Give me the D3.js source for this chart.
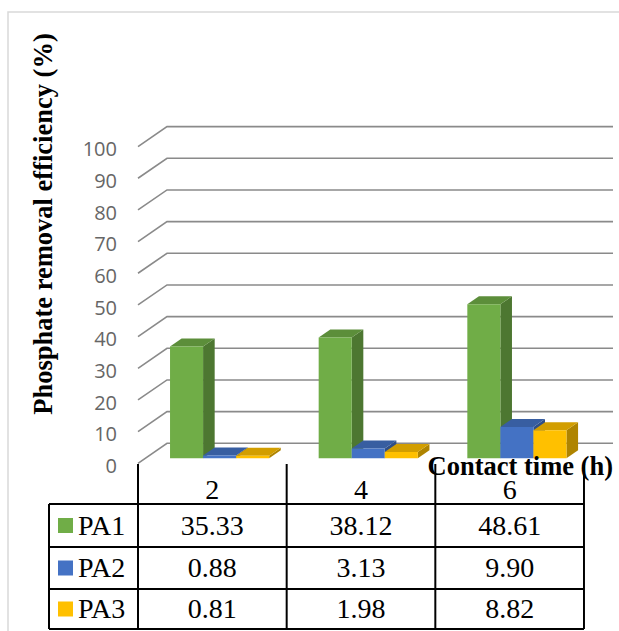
<!DOCTYPE html>
<html>
<head>
<meta charset="utf-8">
<script src="https://cdn.jsdelivr.net/npm/d3@7"></script>
<style>
  html, body { margin: 0; padding: 0; background: #fff; }
  svg { display: block; }
  .serif { font-family: "Liberation Serif", Tinos, "Noto Serif", "DejaVu Serif", "Nimbus Roman", "Nimbus Roman No9 L", FreeSerif, "Noto Serif CJK SC", "Times New Roman", Times, serif; }
  .sans { font-family: "Open Sans", "Liberation Sans", sans-serif; }
</style>
</head>
<body>
<svg id="chart" width="619" height="631"></svg>
<script>
// Contact times (h) and phosphate removal efficiency (%) per adsorbent
const categories = ["2", "4", "6"];
const seriesNames = ["PA1", "PA2", "PA3"];
const pa1 = [35.33, 38.12, 48.61];
const pa2 = [0.88, 3.13, 9.90];
const pa3 = [0.81, 1.98, 8.82];
const seriesValues = [pa1, pa2, pa3];
const seriesColors = ["#70AD47", "#4472C4", "#FFC000"];
const yTicks = [0, 10, 20, 30, 40, 50, 60, 70, 80, 90, 100];
const yTitle = "Phosphate removal efficiency (%)";
const xTitle = "Contact time (h)";

const svg = d3.select("#chart");

// Oblique 3-D projection: front plane plus a receding depth offset
const DX = 29, DY = 20;
const plotLeft = 138, plotRight = 584;
const y = d3.scaleLinear().domain([0, 100]).range([463.3, 146.6]);
const x = d3.scaleBand().domain(categories).range([plotLeft, plotRight])
  .paddingInner(0.333).paddingOuter(0.1667);
const xs = d3.scaleBand().domain(seriesNames).range([0, x.bandwidth()]);
const proj = (px, v, d) => [px + d * DX, y(v) - d * DY];

// Chart frame
svg.append("path")
  .attr("d", "M8,631 L8,12 L619,12")
  .attr("fill", "none").attr("stroke", "#d9d9d9").attr("stroke-width", 1.5);

// Gridlines: side wall diagonals and back wall horizontals
const grid = svg.append("g").attr("stroke", "#8a8a8a").attr("stroke-width", 1.6).attr("fill", "none");
yTicks.forEach(t => {
  const a = proj(plotLeft, t, 0), b = proj(plotLeft, t, 1), c = proj(plotRight, t, 1);
  grid.append("path").attr("d", d3.line()([a, b, c]));
});

// Value axis labels
svg.append("g")
  .selectAll("text").data(yTicks).join("text")
  .attr("class", "sans")
  .attr("x", 117).attr("y", d => y(d) + 2.5)
  .attr("dy", "0.36em")
  .attr("text-anchor", "end")
  .attr("font-size", 20)
  .attr("fill", "#666666")
  .text(d => d);

// 3-D columns, drawn left to right so each one hides its neighbour's side face
const d0 = 0.25, d1 = 0.65;
const bars = svg.append("g");
categories.forEach((cat, ci) => {
  seriesNames.forEach((s, si) => {
    const v = seriesValues[si][ci];
    const col = d3.color(seriesColors[si]);
    const xl = x(cat) + xs(s), xr = xl + xs.bandwidth();
    const fbl = proj(xl, 0, d0), fbr = proj(xr, 0, d0), ftl = proj(xl, v, d0), ftr = proj(xr, v, d0);
    const bbr = proj(xr, 0, d1), btl = proj(xl, v, d1), btr = proj(xr, v, d1);
    const g = bars.append("g");
    // side face
    g.append("path").attr("d", d3.line()([fbr, bbr, btr, ftr]) + "Z")
      .attr("fill", col.darker(1.05));
    // top face
    g.append("path").attr("d", d3.line()([ftl, ftr, btr, btl]) + "Z")
      .attr("fill", col.darker(0.55));
    // front face
    g.append("path").attr("d", d3.line()([fbl, fbr, ftr, ftl]) + "Z")
      .attr("fill", col);
  });
});

// Axis titles
svg.append("text")
  .attr("class", "serif")
  .attr("transform", "translate(52,224) rotate(-90)")
  .attr("text-anchor", "middle")
  .attr("font-weight", "bold")
  .attr("font-size", 26.5)
  .attr("fill", "#000")
  .text(yTitle);

svg.append("text")
  .attr("class", "serif")
  .attr("x", 613).attr("y", 475)
  .attr("text-anchor", "end")
  .attr("font-weight", "bold")
  .attr("font-size", 26.5)
  .attr("fill", "#000")
  .text(xTitle);

// Data table below the plot
const tableLeft = 49;
const headerTop = 464;
const rowEdges = [504, 547, 589, 629];
const colEdges = [plotLeft].concat(categories.map(c => x(c) + x.bandwidth() + x.step() * 0.333 / 2));
const table = svg.append("g").attr("stroke", "#000").attr("stroke-width", 2).attr("fill", "none");
colEdges.forEach(cx => {
  table.append("line").attr("x1", cx).attr("x2", cx).attr("y1", headerTop).attr("y2", rowEdges[rowEdges.length - 1]);
});
table.append("line").attr("x1", tableLeft).attr("x2", tableLeft).attr("y1", rowEdges[0]).attr("y2", rowEdges[rowEdges.length - 1]);
rowEdges.forEach(ry => {
  table.append("line").attr("x1", tableLeft).attr("x2", colEdges[colEdges.length - 1]).attr("y1", ry).attr("y2", ry);
});

// Category header
svg.append("g").selectAll("text").data(categories).join("text")
  .attr("class", "serif")
  .attr("x", d => x(d) + x.bandwidth() / 2)
  .attr("y", 499)
  .attr("text-anchor", "middle")
  .attr("font-size", 28).attr("fill", "#000")
  .text(d => d);

// Rows: legend key, series name, values
seriesNames.forEach((s, si) => {
  const cy = (rowEdges[si] + rowEdges[si + 1]) / 2;
  svg.append("rect")
    .attr("x", 58).attr("y", cy - 7.5).attr("width", 15).attr("height", 15)
    .attr("fill", seriesColors[si]);
  svg.append("text")
    .attr("class", "serif")
    .attr("x", 78).attr("y", cy + 9)
    .attr("font-size", 28).attr("fill", "#000")
    .text(s);
  categories.forEach((c, ci) => {
    svg.append("text")
      .attr("class", "serif")
      .attr("x", (colEdges[ci] + colEdges[ci + 1]) / 2)
      .attr("y", cy + 9)
      .attr("text-anchor", "middle")
      .attr("font-size", 28).attr("fill", "#000")
      .text(seriesValues[si][ci].toFixed(2));
  });
});
</script>
</body>
</html>
